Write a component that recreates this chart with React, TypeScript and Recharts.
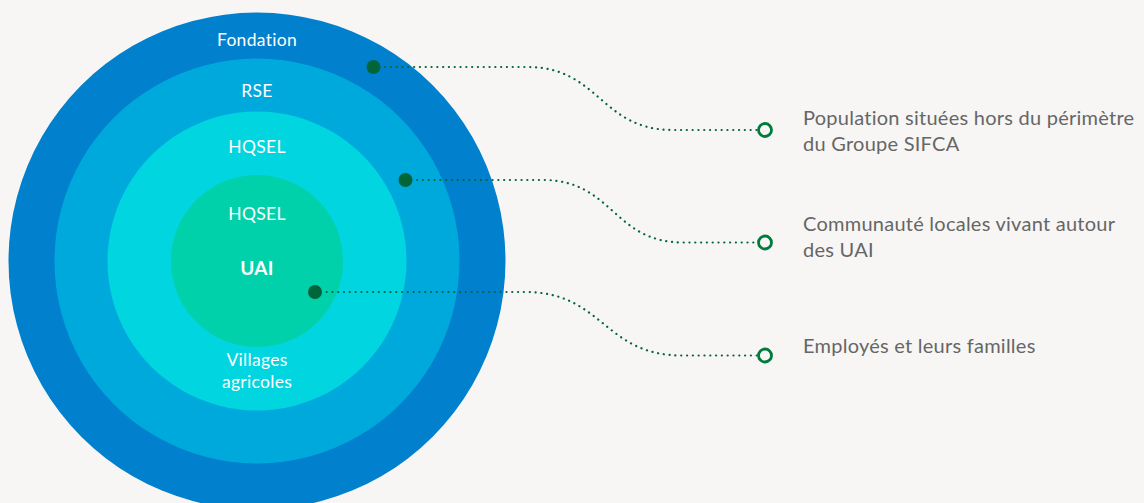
import React from "react";
import { PieChart, Pie, Cell } from "recharts";

// concentric circles, outermost first
const ringNames = ["Fondation", "RSE", "HQSEL", "UAI"];
const ringColors = ["#0080CD", "#00A9DC", "#00D5E0", "#00D1AB"];
const ringRadii = [248.5, 202.5, 149.5, 86];

// stakeholder groups linked to each circle
const groupLines = [
  ["Population situées hors du périmètre", "du Groupe SIFCA"],
  ["Communauté locales vivant autour", "des UAI"],
  ["Employés et leurs familles"],
];

const CX = 257;
const CY = 261;
const FONT = "Lato, 'Open Sans', sans-serif";
const GREEN = "#00663A";

// dot on the circle (offset from centre), bend start/end x, end circle y, first text line y
const links = [
  { dx: 116.5, dy: -194, x1: 527, x2: 673, ey: 130, ty: 117 },
  { dx: 148.5, dy: -81, x1: 543, x2: 683, ey: 242.5, ty: 223 },
  { dx: 58, dy: 31, x1: 525, x2: 682, ey: 355.5, ty: 345 },
];
const END_X = 765;
const TEXT_X = 803;

// drawn as the label of the innermost pie so it sits above every circle
function renderOverlay(props: any) {
  const cx = props.cx ?? CX;
  const cy = props.cy ?? CY;
  const white = {
    fill: "#ffffff",
    fontFamily: FONT,
    fontSize: 17.5,
    letterSpacing: 0.3,
    textAnchor: "middle" as const,
  };
  return (
    <g>
      <text x={cx} y={cy - 222} dominantBaseline="central" {...white}>{ringNames[0]}</text>
      <text x={cx} y={cy - 171} dominantBaseline="central" {...white}>{ringNames[1]}</text>
      <text x={cx} y={cy - 115} dominantBaseline="central" {...white}>{ringNames[2]}</text>
      <text x={cx} y={cy - 48} dominantBaseline="central" {...white}>{ringNames[2]}</text>
      <text x={cx} y={cy + 6} dominantBaseline="central" {...white} fontSize={19} fontWeight={700}>{ringNames[3]}</text>
      <text x={cx} y={cy + 98} dominantBaseline="central" {...white}>Villages</text>
      <text x={cx} y={cy + 120} dominantBaseline="central" {...white}>agricoles</text>

      {links.map((l, i) => {
        const ax = cx + l.dx;
        const ay = cy + l.dy;
        const mid = (l.x1 + l.x2) / 2;
        const d = `M ${ax} ${ay} H ${l.x1} C ${mid} ${ay}, ${mid} ${l.ey}, ${l.x2} ${l.ey} H ${END_X - 8}`;
        return (
          <g key={i}>
            <path d={d} fill="none" stroke={GREEN} strokeWidth={2.2} strokeDasharray="0.1 5.7" strokeLinecap="round" />
            <circle cx={ax} cy={ay} r={7} fill={GREEN} />
            <circle cx={END_X} cy={l.ey} r={6.5} fill="none" stroke="#007A3D" strokeWidth={2.8} />
            {groupLines[i].map((line, j) => (
              <text
                key={j}
                x={TEXT_X}
                y={l.ty + j * 26}
                dominantBaseline="central"
                fill="#666666"
                fontFamily={FONT}
                fontSize={20}
                letterSpacing={0.25}
              >
                {line}
              </text>
            ))}
          </g>
        );
      })}
    </g>
  );
}

export default function App() {
  const last = ringNames.length - 1;
  return (
    <div style={{ position: "absolute", left: 0, top: 0, width: 1144, height: 503, background: "#F7F6F5", overflow: "hidden" }}>
      <PieChart width={1144} height={503} margin={{ top: 0, right: 0, bottom: 0, left: 0 }}>
        {ringNames.map((name, i) => (
          <Pie
            key={name + i}
            data={[{ name, value: 1 }]}
            dataKey="value"
            cx={CX}
            cy={CY}
            innerRadius={0}
            outerRadius={ringRadii[i]}
            startAngle={90}
            endAngle={-270}
            stroke="none"
            isAnimationActive={false}
            label={i === last ? renderOverlay : false}
            labelLine={false}
          >
            <Cell fill={ringColors[i]} />
          </Pie>
        ))}
      </PieChart>
    </div>
  );
}
